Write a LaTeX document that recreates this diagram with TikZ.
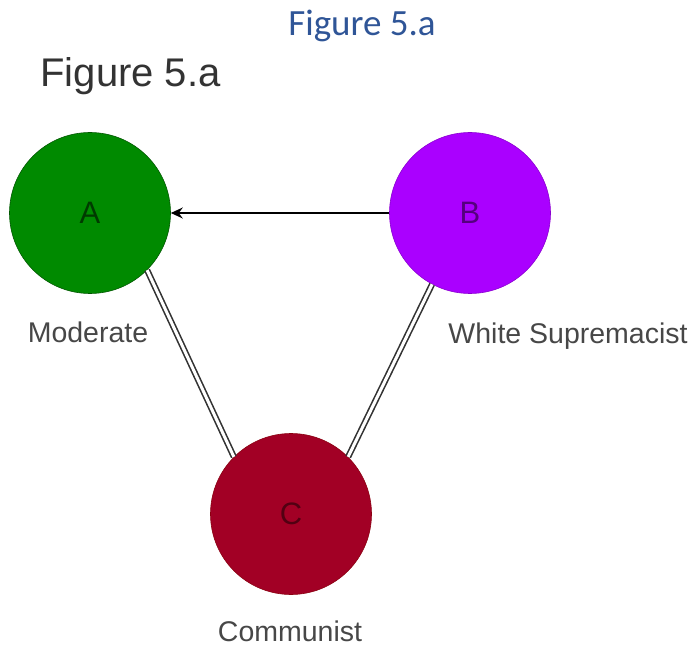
\documentclass[tikz,border=0pt]{standalone}
\usepackage{fontspec}
\setmainfont{Liberation Sans}
\newfontfamily\wordfont{Carlito}
\usetikzlibrary{arrows.meta, positioning}
\definecolor{cgreen}{HTML}{008A00}
\definecolor{cgreenline}{HTML}{005700}
\definecolor{cgreentext}{HTML}{003A00}
\definecolor{cpurple}{HTML}{AA00FF}
\definecolor{cpurpleline}{HTML}{8A00D0}
\definecolor{cpurpletext}{HTML}{55007F}
\definecolor{cred}{HTML}{A20025}
\definecolor{credline}{HTML}{8A0010}
\definecolor{credtext}{HTML}{520012}
\definecolor{cgrey}{HTML}{333333}
\definecolor{cword}{HTML}{2F5597}
\tikzset{
  every picture/.style={x=1pt, y=-1pt, line width=1pt},
  party/.style={circle, draw=#1line, fill=#1, minimum size=161pt, inner sep=0pt,
    line width=0.6pt, text=#1text, font=\fontsize{31}{34}\selectfont},
  tag/.style={anchor=base, inner sep=0pt, text=cgrey!90, font=\fontsize{28.5}{32}\selectfont},
  arrow/.style={-{Stealth[length=12pt, width=11pt, inset=4pt]}, draw=black, line width=1.5pt},
  bond/.style={draw=cgrey, double=white, line width=1.6pt, double distance=3pt},
}
\begin{document}
\begin{tikzpicture}
  \useasboundingbox (0,0) rectangle (699,647);
  % titles
  \node[anchor=base, inner sep=0pt, text=cword, font=\wordfont\fontsize{37}{42}\selectfont] (caption) at (362,36) {Figure 5.a};
  \node[anchor=base west, inner sep=0pt, text=cgrey, font=\fontsize{40}{44}\selectfont] (title) at (40,87) {Figure 5.a};
  % the three groups
  \node[party=cgreen] (A) at (90,213) {A};
  \node[party=cpurple] (B) at (470,213) {B};
  \node[party=cred] (C) at (291,514) {C};
  \node[tag] (moderate) at (88,342) {Moderate};
  \node[tag] (white) at (568,343) {White Supremacist};
  \node[tag] (communist) at (290,641) {Communist};
  % relations
  \draw[arrow] (B) -- (A);
  \draw[bond] (A.-45) -- (C.135);
  \draw[bond] (B.242) -- (C.45);
\end{tikzpicture}
\end{document}
